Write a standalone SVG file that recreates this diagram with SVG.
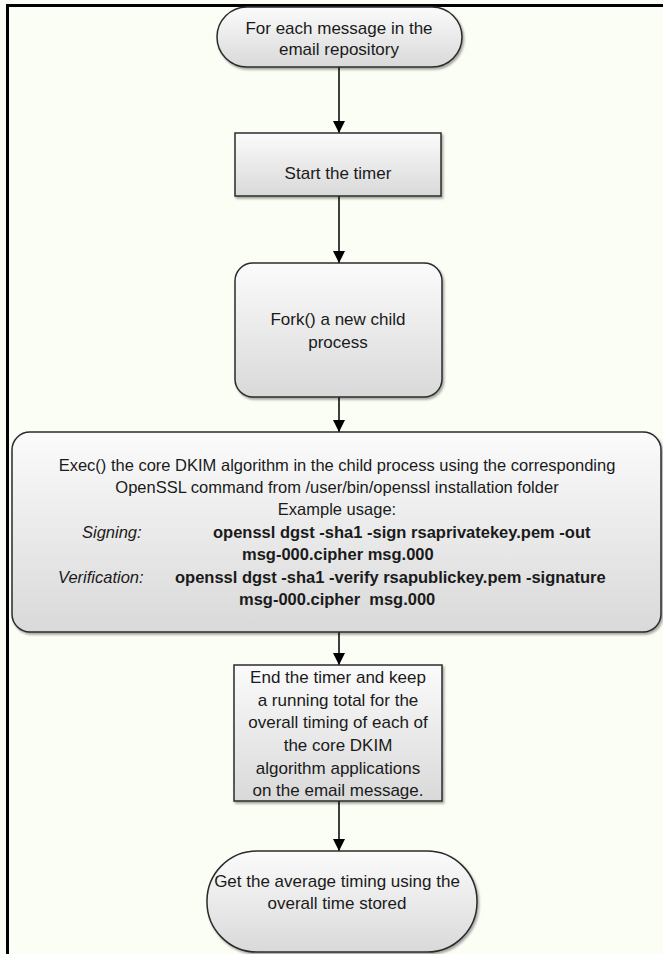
<svg xmlns="http://www.w3.org/2000/svg" width="663" height="954" viewBox="0 0 663 954">
  <style>
    .bg { fill: #fbfef4; }
    .frame { stroke: #000; stroke-width: 3; fill: none; }
    .shape { fill: url(#g); stroke: #2b2b2b; stroke-width: 1.5; filter: url(#sh); }
    .t { font-family: "Liberation Sans", Arial, sans-serif; font-size: 17px; fill: #1a1a1a; text-anchor: middle; }
    .s { font-family: "Liberation Sans", Arial, sans-serif; font-size: 16.5px; fill: #1a1a1a; }
    .c { text-anchor: middle; }
    .i { font-style: italic; }
    .b { font-weight: bold; white-space: pre; }
    .conn { stroke: #000; stroke-width: 1.5; fill: none; marker-end: url(#ah); }
  </style>
  <defs>
    <linearGradient id="g" x1="0" y1="0" x2="0" y2="1">
      <stop offset="0" stop-color="#fbfbfb"/>
      <stop offset="1" stop-color="#d9d9d9"/>
    </linearGradient>
    <filter id="sh" x="-5%" y="-5%" width="115%" height="120%">
      <feDropShadow dx="1.5" dy="2" stdDeviation="1.2" flood-color="#000" flood-opacity="0.35"/>
    </filter>
    <marker id="ah" viewBox="0 0 12 12" refX="12" refY="6" markerWidth="12" markerHeight="12" markerUnits="userSpaceOnUse" orient="auto">
      <path d="M0,0 L12,6 L0,12 z" fill="#000"/>
    </marker>
  </defs>

  <rect class="bg" x="0" y="0" width="663" height="954"/>
  <path class="frame" d="M7.5,954 L7.5,5.5 L663,5.5"/>

  <g id="connectors">
    <line class="conn" x1="339" y1="67" x2="339" y2="133"/>
    <line class="conn" x1="339" y1="196" x2="339" y2="263"/>
    <line class="conn" x1="339" y1="397" x2="339" y2="432"/>
    <line class="conn" x1="339" y1="632" x2="339" y2="665"/>
    <line class="conn" x1="339" y1="801" x2="339" y2="851"/>
  </g>

  <g id="n-start">
    <rect class="shape" x="217" y="7" width="245" height="60" rx="30" ry="30"/>
    <text class="t" x="339" y="34">For each message in the</text>
    <text class="t" x="339" y="55">email repository</text>
  </g>

  <g id="n-timer">
    <rect class="shape" x="235" y="133" width="206" height="63"/>
    <text class="t" x="338" y="179">Start the timer</text>
  </g>

  <g id="n-fork">
    <rect class="shape" x="235" y="263" width="207" height="134" rx="18" ry="18"/>
    <text class="t" x="338" y="325">Fork() a new child</text>
    <text class="t" x="338" y="348">process</text>
  </g>

  <g id="n-exec">
    <rect class="shape" x="12" y="432" width="649" height="200" rx="18" ry="18"/>
    <text class="s c" x="337" y="471">Exec() the core DKIM algorithm in the child process using the corresponding</text>
    <text class="s c" x="337" y="493">OpenSSL command from /user/bin/openssl installation folder</text>
    <text class="s c" x="337" y="515">Example usage:</text>
    <text class="s i" x="82" y="538">Signing:</text>
    <text class="s b" x="213" y="538">openssl dgst -sha1 -sign rsaprivatekey.pem -out</text>
    <text class="s b" x="242" y="560">msg-000.cipher msg.000</text>
    <text class="s i" x="58" y="583">Verification:</text>
    <text class="s b" x="175" y="583">openssl dgst -sha1 -verify rsapublickey.pem -signature</text>
    <text class="s b" x="239" y="605">msg-000.cipher  msg.000</text>
  </g>

  <g id="n-end">
    <rect class="shape" x="234" y="665" width="208" height="136"/>
    <text class="t" x="338" y="683">End the timer and keep</text>
    <text class="t" x="338" y="706">a running total for the</text>
    <text class="t" x="338" y="728">overall timing of each of</text>
    <text class="t" x="338" y="751">the core DKIM</text>
    <text class="t" x="338" y="774">algorithm applications</text>
    <text class="t" x="338" y="796">on the email message.</text>
  </g>

  <g id="n-average">
    <rect class="shape" x="207" y="851" width="270" height="101" rx="50" ry="50"/>
    <text class="t" x="337" y="887">Get the average timing using the</text>
    <text class="t" x="337" y="909">overall time stored</text>
  </g>
</svg>
